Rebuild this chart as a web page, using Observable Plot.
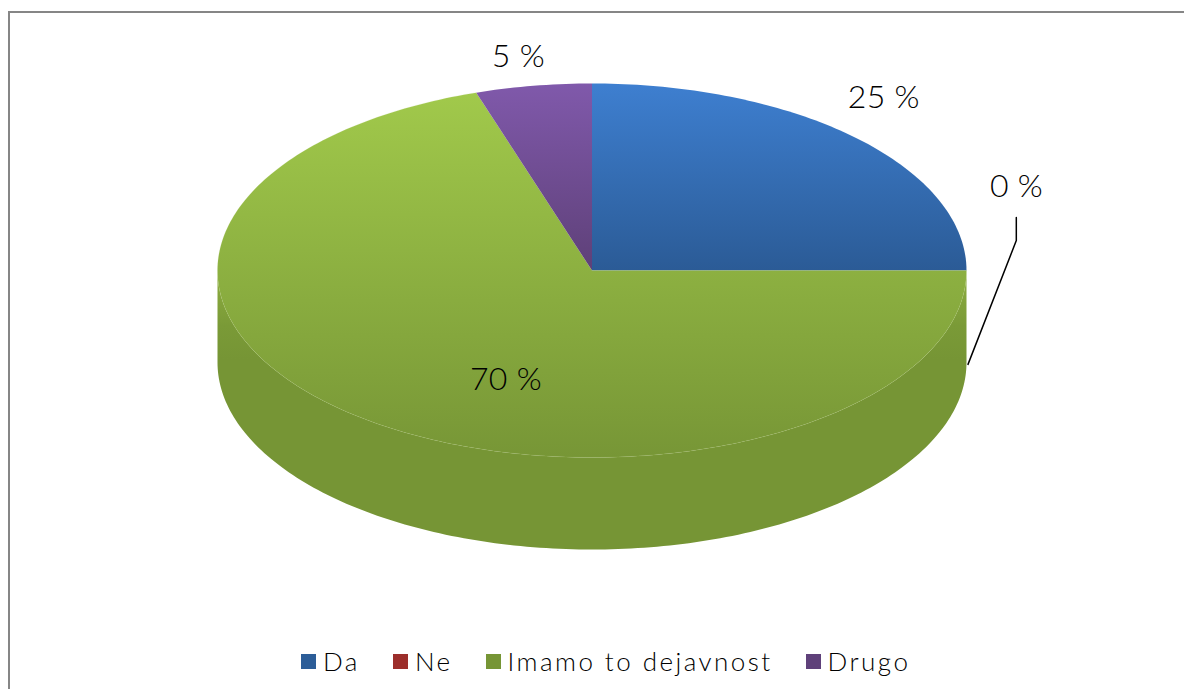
<!DOCTYPE html>
<html lang="sl">
<head>
<meta charset="utf-8">
<script src="https://cdn.jsdelivr.net/npm/d3@7"></script>
<script src="https://cdn.jsdelivr.net/npm/@observablehq/plot@0.6"></script>
<style>
  html, body { margin: 0; padding: 0; width: 1184px; height: 689px; overflow: hidden; background: #fff; }
  #frame { position: absolute; left: 8px; top: 11px; right: -4px; bottom: -4px; border: 2px solid #868686; box-sizing: border-box; }
  #chart { position: absolute; left: 0; top: 0; }
  #legend { position: absolute; left: 301px; top: 644px; display: flex; gap: 33px; align-items: center;
            font: 300 26px Lato, sans-serif; letter-spacing: 2.45px; color: #000; white-space: nowrap; line-height: 34px; }
  #legend .item { display: flex; align-items: center; gap: 7px; }
  #legend .sw { width: 15px; height: 15px; display: inline-block; }
  svg text { letter-spacing: 0.3px; }
</style>
</head>
<body>
<div id="frame"></div>
<div id="chart"></div>
<div id="legend"></div>
<script>
const categories = ["Da", "Ne", "Imamo to dejavnost", "Drugo"];
const shares = [25, 0, 70, 5];
const labels = ["25 %", "0 %", "70 %", "5 %"];

// Styling and layout (not data)
const swatchColors = ["#2c5d98", "#9c2e2b", "#769535", "#5f417a"];
const topGradients = [
  ["#3e7fd0", "#2b5b96"],
  ["#c0504d", "#9c2e2b"],
  ["#a1c94b", "#779636"],
  ["#8059ab", "#5e4078"]
];
const depth = 0.492;            // pie thickness, in vertical radii
const labelAnchors = [          // radial position of each label and pixel nudge
  {r: 1, dx: 27, dy: -41},
  {r: 1, dx: 50, dy: -84},
  {r: 0.6, dx: 46, dy: 18},
  {r: 1, dx: -15, dy: -29}
];
const leaderElbow = {x: 1.133, y: 0.16};
const leaderTop = {x: 1.133, y: 0.283};

const arcs = d3.pie().sort(null).value(d => d)(shares);
const pt = (a, r = 1, dy = 0) => ({x: r * Math.sin(a), y: r * Math.cos(a) - dy});
const arcPts = (a0, a1, dy = 0) => {
  const n = Math.max(1, Math.ceil(Math.abs(a1 - a0) / (Math.PI / 180)));
  return d3.range(n + 1).map(i => pt(a0 + (a1 - a0) * i / n, 1, dy));
};

const slicePolys = arcs.map(s => [{x: 0, y: 0}, ...arcPts(s.startAngle, s.endAngle), {x: 0, y: 0}]);

// Side wall: only the front half of the rim shows
const wallPoly = [...arcPts(Math.PI / 2, 3 * Math.PI / 2), ...arcPts(3 * Math.PI / 2, Math.PI / 2, depth)];

const defs = () => {
  const g = document.createElementNS("http://www.w3.org/2000/svg", "g");
  const grad = (id, stops) => `<linearGradient id="${id}" x1="0" y1="0" x2="0" y2="1">` +
    stops.map(([o, c]) => `<stop offset="${o}" stop-color="${c}"/>`).join("") + `</linearGradient>`;
  g.innerHTML = "<defs>" +
    topGradients.map((c, i) => grad("top" + i, [[0, c[0]], [1, c[1]]])).join("") +
    grad("wall", [[0, "#8eae40"], [0.2, "#7a9a37"], [0.32, "#769535"], [1, "#769535"]]) +
    "</defs>";
  return g;
};

const leader = [
  {x: 1.004, y: -depth - 0.01},
  leaderElbow,
  leaderTop
];

const labelMarks = arcs.map((s, i) => {
  const a = (s.startAngle + s.endAngle) / 2;
  const p = pt(a, labelAnchors[i].r);
  return Plot.text([labels[i]], {
    x: () => p.x, y: () => p.y, text: d => d,
    dx: labelAnchors[i].dx, dy: labelAnchors[i].dy,
    fontSize: 32, fontFamily: "Lato, sans-serif", fontWeight: 300, fill: "#000", textAnchor: "middle"
  });
});

const fig = Plot.plot({
  width: 1184, height: 640,
  margin: 0,
  style: {background: "transparent"},
  x: {domain: [-1, 1], range: [217, 966], axis: null},
  y: {domain: [-1, 1], range: [457, 83], axis: null},
  marks: [
    defs,
    Plot.line(wallPoly, {x: "x", y: "y", fill: "url(#wall)", stroke: "none"}),
    ...slicePolys.map((p, i) => shares[i] > 0
      ? Plot.line(p, {x: "x", y: "y", fill: `url(#top${i})`, stroke: i === 2 ? "#b6cf7a" : "none", strokeWidth: 0.5, strokeOpacity: 0.3})
      : null),
    Plot.line(leader, {x: "x", y: "y", stroke: "#000", strokeWidth: 1.5, curve: "linear"}),
    ...labelMarks
  ]
});
document.getElementById("chart").appendChild(fig);

const legend = document.getElementById("legend");
categories.forEach((c, i) => {
  const item = document.createElement("span");
  item.className = "item";
  const sw = document.createElement("span");
  sw.className = "sw";
  sw.style.background = swatchColors[i];
  const t = document.createElement("span");
  t.textContent = c;
  item.append(sw, t);
  legend.append(item);
});
</script>
</body>
</html>
